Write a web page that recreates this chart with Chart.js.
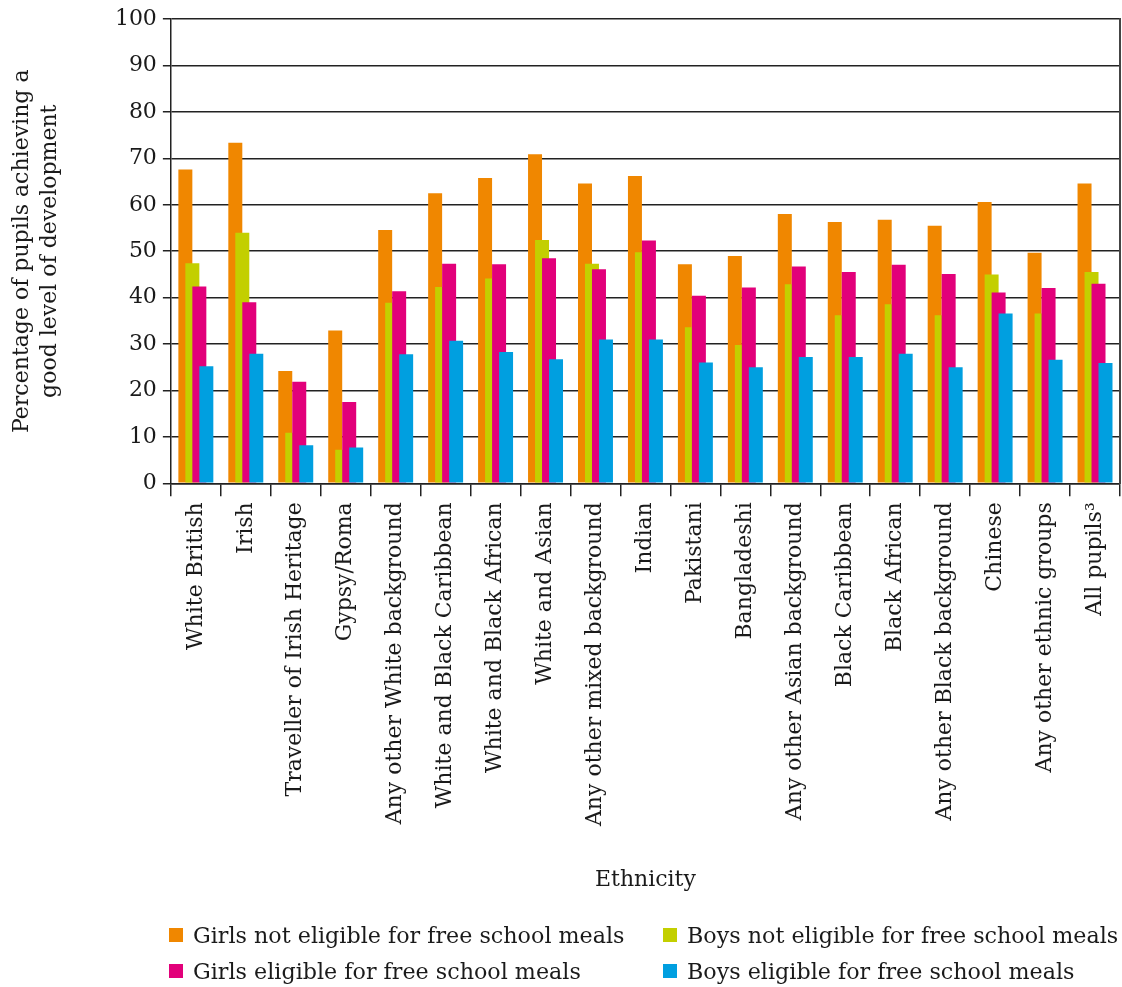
<!DOCTYPE html>
<html>
<head>
<meta charset="utf-8">
<script src="https://cdn.jsdelivr.net/npm/chart.js@4.4.1/dist/chart.umd.min.js"></script>
<style>
    body { margin: 0; background: #fff; }
    #wrap { position: relative; width: 1122px; height: 987px; }
    #legend { position: absolute; left: 0; top: 0; width: 1122px; height: 987px; pointer-events: none; }
    .item { position: absolute; display: flex; align-items: center; font-family: "DejaVu Serif"; font-size: 22px; color: #1a1a1a; white-space: nowrap; }
    .box { width: 14px; height: 14px; margin-right: 10px; }
    .txt { display: inline-block; transform: scaleX(1.01); transform-origin: left center; }
</style>
</head>
<body>
<div id="wrap">
    <canvas id="barChart" width="1122" height="900"></canvas>
    <div id="legend"></div>
</div>
<script>
// categories
const ethnicities = ['White British', 'Irish', 'Traveller of Irish Heritage', 'Gypsy/Roma',
    'Any other White background', 'White and Black Caribbean', 'White and Black African',
    'White and Asian', 'Any other mixed background', 'Indian', 'Pakistani', 'Bangladeshi',
    'Any other Asian background', 'Black Caribbean', 'Black African', 'Any other Black background',
    'Chinese', 'Any other ethnic groups', 'All pupils³'];

// series values (%)
const girlsNotFsm = [67.6, 73.4, 24.2, 32.9, 54.6, 62.5, 65.8, 70.9, 64.6, 66.2, 47.2, 49.0, 58.0, 56.3, 56.8, 55.5, 60.6, 49.7, 64.6];
const boysNotFsm  = [47.4, 54.0, 10.9, 7.2, 38.9, 42.3, 44.1, 52.4, 47.3, 49.8, 33.6, 29.8, 42.9, 36.2, 38.6, 36.2, 45.0, 36.6, 45.5];
const girlsFsm    = [42.4, 39.0, 21.9, 17.5, 41.4, 47.3, 47.2, 48.5, 46.1, 52.3, 40.4, 42.2, 46.7, 45.5, 47.1, 45.1, 41.1, 42.1, 43.0];
const boysFsm     = [25.2, 27.9, 8.2, 7.7, 27.8, 30.7, 28.3, 26.7, 31.0, 31.0, 26.0, 25.0, 27.2, 27.2, 27.9, 25.0, 36.6, 26.6, 25.9];

const seriesNames = ['Girls not eligible for free school meals', 'Boys not eligible for free school meals',
    'Girls eligible for free school meals', 'Boys eligible for free school meals'];
const seriesColors = ['#F08700', '#C3CF00', '#E2007A', '#009FE0'];
const yTicks = [0, 10, 20, 30, 40, 50, 60, 70, 80, 90, 100];

const serif = 'DejaVu Serif';
const ink = '#1a1a1a';
const lineCol = '#222';

// draw datasets first-to-last so each later bar sits on top of the previous one
const drawInOrder = {
    id: 'drawInOrder',
    beforeDatasetsDraw(chart) {
        chart.getSortedVisibleDatasetMetas().forEach(meta => chart._drawDataset(meta));
        return false;
    }
};

const values = [girlsNotFsm, boysNotFsm, girlsFsm, boysFsm];

const ctx = document.getElementById('barChart').getContext('2d');
new Chart(ctx, {
    type: 'bar',
    data: {
        labels: ethnicities,
        datasets: values.map((v, i) => ({
            label: seriesNames[i],
            data: v,
            backgroundColor: seriesColors[i],
            borderWidth: 0,
            categoryPercentage: 0.56,
            barPercentage: 2
        }))
    },
    options: {
        responsive: false,
        animation: false,
        layout: { padding: { top: 17, right: 2, left: 0, bottom: 0 } },
        plugins: {
            legend: { display: false },
            tooltip: { enabled: false }
        },
        scales: {
            x: {
                grid: { display: true, drawOnChartArea: false, tickLength: 13, color: lineCol, lineWidth: 1.5, offset: true },
                border: { display: true, color: lineCol, width: 1.5 },
                ticks: {
                    autoSkip: false, minRotation: 90, maxRotation: 90, padding: 6,
                    color: ink, font: { family: serif, size: 22 }
                },
                title: {
                    display: true, text: 'Ethnicity', color: ink,
                    font: { family: serif, size: 22, lineHeight: 1.27 },
                    padding: { top: 34, bottom: 6 }
                },
                afterFit: scale => { scale.paddingRight = 0; scale.paddingLeft = 0; }
            },
            y: {
                min: 0,
                max: 100,
                afterBuildTicks: scale => { scale.ticks = yTicks.map(v => ({ value: v })); },
                grid: { color: lineCol, lineWidth: 1.5, tickLength: 8 },
                border: { display: true, color: lineCol, width: 1.5 },
                ticks: { padding: 6, color: ink, font: { family: serif, size: 22 } },
                title: {
                    display: true,
                    text: ['Percentage of pupils achieving a', 'good level of development'],
                    color: ink,
                    font: { family: serif, size: 22, lineHeight: 1.27 },
                    padding: { top: 8, bottom: 45 }
                }
            },
            yRight: {
                position: 'right',
                min: 0,
                max: 100,
                grid: { display: false, drawTicks: false },
                ticks: { display: false },
                border: { display: true, color: '#444', width: 2 },
                afterFit: scale => { scale.width = 0; }
            }
        }
    },
    plugins: [drawInOrder]
});

// legend in two columns under the chart
const legendPos = [[169, 935], [663, 935], [169, 971], [663, 971]];
const legend = document.getElementById('legend');
seriesNames.forEach((name, i) => {
    const item = document.createElement('div');
    item.className = 'item';
    item.style.left = legendPos[i][0] + 'px';
    item.style.top = (legendPos[i][1] - 14) + 'px';
    item.style.height = '28px';
    item.innerHTML = '<span class="box" style="background:' + seriesColors[i] + '"></span><span class="txt">' + name + '</span>';
    legend.appendChild(item);
});
</script>
</body>
</html>
